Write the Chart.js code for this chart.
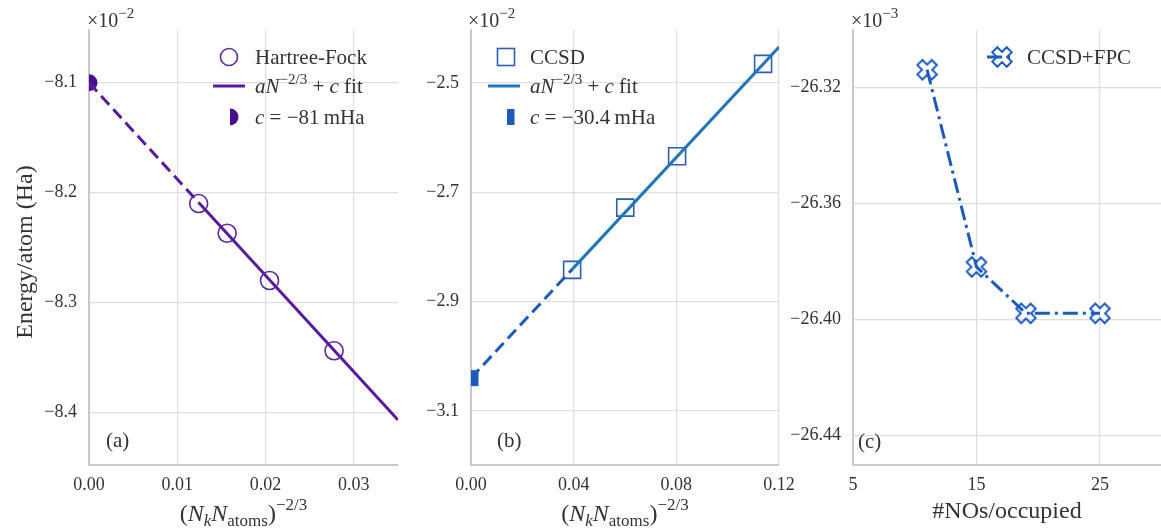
<!DOCTYPE html>
<html>
<head>
<meta charset="utf-8">
<script src="https://cdn.jsdelivr.net/npm/chart.js@4.4.0/dist/chart.umd.min.js"></script>
<style>
  body { margin: 0; background: #fff; width: 1161px; height: 531px; overflow: hidden; position: relative; }
  .panel { position: absolute; top: 0; height: 531px; }
</style>
</head>
<body>
<div class="panel" style="left:0;width:400px"><canvas id="chartA" width="400" height="531"></canvas></div>
<div class="panel" style="left:780px;width:381px"><canvas id="chartC" width="381" height="531"></canvas></div>
<div class="panel" style="left:400px;width:400px"><canvas id="chartB" width="400" height="531"></canvas></div>
<script>
// energies in units of 1e-2 Ha (a, b) and 1e-3 Ha (c), as on the axes

// (a) Hartree-Fock
const hfX = [0.01242, 0.01565, 0.02045, 0.02776];
const hfE = [-8.210, -8.237, -8.280, -8.344];
const hfFitX = [0.01242, 0.035];
const hfFitE = [-8.209, -8.407];
const hfExtX = [0, 0.01242];
const hfExtE = [-8.10, -8.209];
const hfC = -8.10;

// (b) CCSD
const ccX = [0.0394, 0.0601, 0.0803, 0.1138];
const ccE = [-2.842, -2.728, -2.634, -2.465];
const ccFitX = [0.0394, 0.12];
const ccFitE = [-2.841, -2.434];
const ccExtX = [0, 0.0394];
const ccExtE = [-3.04, -2.841];
const ccC = -3.04;

// (c) CCSD+FPC
const fpcX = [11, 15, 19, 25];
const fpcE = [-26.314, -26.382, -26.398, -26.398];

// tick labels
const ticksAX = [0, 0.01, 0.02, 0.03];
const ticksAY = [-8.4, -8.3, -8.2, -8.1];
const ticksBX = [0, 0.04, 0.08, 0.12];
const ticksBY = [-3.1, -2.9, -2.7, -2.5];
const ticksCX = [5, 15, 25];
const ticksCY = [-26.44, -26.40, -26.36, -26.32];

const FONT = "'Liberation Serif', 'DejaVu Serif', serif";
const TXT = '#333';
const PURPLE = '#5a1a9e';
const BLUE_FIT = '#2276b8';
const BLUE = '#1c5bbd';

const pts = (xs, ys) => xs.map((x, i) => ({ x: x, y: ys[i] }));
const minus = s => s.replace('-', '\u2212');

// marker images
function makeCanvas(size, draw) {
    const c = document.createElement('canvas');
    c.width = size; c.height = size;
    draw(c.getContext('2d'), size / 2);
    return c;
}
const halfDisk = makeCanvas(20, (g, m) => {
    g.fillStyle = '#4a0d8f';
    g.beginPath();
    g.arc(m, m, 8.5, -Math.PI / 2, Math.PI / 2);
    g.closePath();
    g.fill();
});
const halfRect = makeCanvas(20, (g, m) => {
    g.fillStyle = BLUE;
    g.fillRect(m, m - 8, 7.5, 16);
});
const xMarker = makeCanvas(28, (g, m) => {
    const r = 10.2, t = 3.6;
    const p = [[-t, r], [t, r], [t, t], [r, t], [r, -t], [t, -t], [t, -r], [-t, -r], [-t, -t], [-r, -t], [-r, t], [-t, t]];
    const a = Math.PI / 4;
    g.strokeStyle = BLUE;
    g.lineWidth = 2;
    g.lineJoin = 'miter';
    g.beginPath();
    p.forEach((q, i) => {
        const x = m + q[0] * Math.cos(a) - q[1] * Math.sin(a);
        const y = m + q[0] * Math.sin(a) + q[1] * Math.cos(a);
        if (i === 0) g.moveTo(x, y); else g.lineTo(x, y);
    });
    g.closePath();
    g.stroke();
});

// text with super/subscripts: [text, size, italic, dy]
function rich(ctx, parts, x, y, align) {
    const fontOf = p => (p[2] ? 'italic ' : '') + p[1] + 'px ' + FONT;
    let w = 0;
    parts.forEach(p => { ctx.font = fontOf(p); w += ctx.measureText(p[0]).width; });
    let cx = align === 'center' ? x - w / 2 : x;
    ctx.textAlign = 'left';
    ctx.textBaseline = 'alphabetic';
    parts.forEach(p => {
        ctx.font = fontOf(p);
        ctx.fillText(p[0], cx, y + (p[3] || 0));
        cx += ctx.measureText(p[0]).width;
    });
}

const fitLabel = [['a', 21, true], ['N', 21, true], ['\u22122/3', 15, false, -9], [' + ', 21], ['c', 21, true], [' fit', 21]];
const nTitle = [['(', 24], ['N', 24, true], ['k', 17, true, 5], ['N', 24, true], ['atoms', 17, false, 5], [')', 24], ['\u22122/3', 17, false, -11]];
const expo = e => [['\u00d710', 20], [e, 15, false, -9]];

function lineSample(ctx, x1, x2, y, color, dash) {
    ctx.strokeStyle = color;
    ctx.lineWidth = 3;
    ctx.setLineDash(dash || []);
    ctx.beginPath();
    ctx.moveTo(x1, y);
    ctx.lineTo(x2, y);
    ctx.stroke();
    ctx.setLineDash([]);
}

function annotate(draw) {
    return {
        id: 'annot',
        afterDraw(chart) {
            const ctx = chart.ctx;
            ctx.save();
            ctx.fillStyle = TXT;
            draw(ctx, chart.chartArea);
            ctx.restore();
        }
    };
}

function axes(o) {
    const fmt = o.dec;
    return {
        x: {
            type: 'linear', min: o.xmin, max: o.xmax,
            afterFit: s => { s.height = 66; s.paddingLeft = 0; s.paddingRight = 0; },
            afterBuildTicks: s => { s.ticks = o.tx.map(v => ({ value: v })); },
            grid: { color: '#dedede', lineWidth: 1.2, drawTicks: false },
            border: { color: '#c9c9c9', width: 2 },
            ticks: {
                padding: 9, color: TXT, font: { family: FONT, size: 18 },
                callback: v => minus(v.toFixed(fmt[0]))
            }
        },
        y: {
            type: 'linear', min: o.ymin, max: o.ymax,
            afterFit: s => { s.width = o.yw; s.paddingTop = 0; s.paddingBottom = 0; },
            afterBuildTicks: s => { s.ticks = o.ty.map(v => ({ value: v })); },
            grid: { color: '#dedede', lineWidth: 1.2, drawTicks: false },
            border: { color: '#c9c9c9', width: 2 },
            ticks: {
                padding: 12, color: TXT, font: { family: FONT, size: 18 },
                callback: v => minus(v.toFixed(fmt[1]))
            }
        }
    };
}

function baseOptions(scales, padRight) {
    return {
        responsive: false,
        animation: false,
        layout: { autoPadding: false, padding: { top: 30, right: padRight, bottom: 0, left: 0 } },
        plugins: { legend: { display: false }, tooltip: { enabled: false } },
        scales: scales
    };
}

// (a)
new Chart(document.getElementById('chartA'), {
    type: 'scatter',
    data: {
        datasets: [
            { data: pts(hfExtX, hfExtE), showLine: true, borderColor: PURPLE, borderWidth: 3, borderDash: [12, 6], pointRadius: 0 },
            { data: pts(hfFitX, hfFitE), showLine: true, borderColor: PURPLE, borderWidth: 3, pointRadius: 0 },
            { data: pts(hfX, hfE), pointStyle: 'circle', pointRadius: 9, borderColor: '#5c2a9c', borderWidth: 1.6, backgroundColor: 'rgba(0,0,0,0)' },
            { data: [{ x: 0, y: hfC }], pointStyle: halfDisk, clip: false }
        ]
    },
    options: baseOptions(axes({ xmin: 0, xmax: 0.035, ymin: -8.448, ymax: -8.052, tx: ticksAX, ty: ticksAY, yw: 89, dec: [2, 1] }), 2),
    plugins: [annotate((ctx, a) => {
        rich(ctx, expo('\u22122'), a.left - 2, 27);
        // legend
        ctx.strokeStyle = '#5c2a9c'; ctx.lineWidth = 1.6;
        ctx.beginPath(); ctx.arc(229, 57, 8.5, 0, Math.PI * 2); ctx.stroke();
        lineSample(ctx, 213, 245, 86, PURPLE);
        ctx.drawImage(halfDisk, 230 - 10, 117 - 10);
        rich(ctx, [['Hartree-Fock', 21]], 255, 64);
        rich(ctx, fitLabel, 255, 93);
        rich(ctx, [['c', 21, true], [' = \u221281\u2009mHa', 21]], 255, 124);
        rich(ctx, [['(a)', 21]], 106, 447);
        rich(ctx, nTitle, (a.left + a.right) / 2, 521, 'center');
        ctx.save();
        ctx.translate(32, 252);
        ctx.rotate(-Math.PI / 2);
        rich(ctx, [['Energy/atom (Ha)', 24]], 0, 0, 'center');
        ctx.restore();
    })]
});

// (b)
new Chart(document.getElementById('chartB'), {
    type: 'scatter',
    data: {
        datasets: [
            { data: pts(ccExtX, ccExtE), showLine: true, borderColor: BLUE, borderWidth: 3, borderDash: [12, 6], pointRadius: 0 },
            { data: pts(ccFitX, ccFitE), showLine: true, borderColor: BLUE_FIT, borderWidth: 3, pointRadius: 0 },
            { data: pts(ccX, ccE), pointStyle: 'rect', pointRadius: 12, borderColor: '#2a5fb3', borderWidth: 1.6, backgroundColor: 'rgba(0,0,0,0)' },
            { data: [{ x: 0, y: ccC }], pointStyle: halfRect, clip: false }
        ]
    },
    options: baseOptions(axes({ xmin: 0, xmax: 0.12, ymin: -3.199, ymax: -2.403, tx: ticksBX, ty: ticksBY, yw: 71, dec: [2, 1] }), 21),
    plugins: [annotate((ctx, a) => {
        rich(ctx, expo('\u22122'), a.left - 3, 27);
        ctx.strokeStyle = '#2a5fb3'; ctx.lineWidth = 1.6;
        ctx.strokeRect(497.5 - 400, 48.5, 17, 17);
        lineSample(ctx, 488 - 400, 520 - 400, 86, BLUE_FIT);
        ctx.drawImage(halfRect, 507 - 400 - 10, 117 - 10);
        rich(ctx, [['CCSD', 21]], 530 - 400, 64);
        rich(ctx, fitLabel, 530 - 400, 93);
        rich(ctx, [['c', 21, true], [' = \u221230.4\u2009mHa', 21]], 530 - 400, 124);
        rich(ctx, [['(b)', 21]], 497 - 400, 447);
        rich(ctx, nTitle, (a.left + a.right) / 2, 521, 'center');
    })]
});

// (c)
new Chart(document.getElementById('chartC'), {
    type: 'scatter',
    data: {
        datasets: [
            { data: pts(fpcX, fpcE), showLine: true, borderColor: BLUE, borderWidth: 3, borderDash: [15, 5, 3, 5], pointStyle: xMarker, clip: false }
        ]
    },
    options: baseOptions(axes({ xmin: 5, xmax: 29.94, ymin: -26.4503, ymax: -26.3003, tx: ticksCX, ty: ticksCY, yw: 73, dec: [0, 2] }), 0),
    plugins: [annotate((ctx, a) => {
        rich(ctx, expo('\u22123'), a.left - 2, 27);
        lineSample(ctx, 987 - 780, 1015 - 780, 57, BLUE, [15, 5, 3, 5]);
        ctx.drawImage(xMarker, 1002 - 780 - 14, 57 - 14);
        rich(ctx, [['CCSD+FPC', 21]], 1027 - 780, 64);
        rich(ctx, [['(c)', 21]], 858 - 780, 448);
        rich(ctx, [['#NOs/occupied', 24]], (a.left + a.right) / 2, 518, 'center');
    })]
});
</script>
</body>
</html>
